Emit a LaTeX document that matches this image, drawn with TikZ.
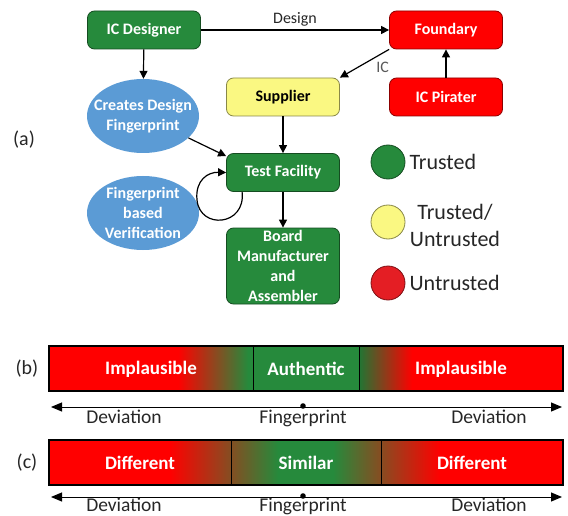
\documentclass[tikz,border=0pt]{standalone}
\usepackage{fontspec}
\setmainfont{Carlito}
\usetikzlibrary{arrows.meta,shapes.geometric}

\definecolor{trustgreen}{RGB}{38,138,60}
\definecolor{untrustred}{RGB}{255,0,0}
\definecolor{legendred}{RGB}{228,30,36}
\definecolor{mixyellow}{RGB}{250,248,130}
\definecolor{printblue}{RGB}{91,155,213}
\definecolor{inkgray}{RGB}{38,38,38}

\tikzset{
  stagebox/.style={draw=#1!55!black, fill=#1, line width=0.8pt, rounded corners=7pt,
    minimum width=113pt, minimum height=38pt, inner sep=0pt, align=center,
    font=\bfseries\fontsize{16}{20}\selectfont, text=white},
  printstep/.style={ellipse, fill=printblue, minimum width=112pt, minimum height=74pt, inner sep=0pt},
  printtext/.style={text=white, align=center, font=\bfseries\fontsize{16}{20}\selectfont},
  flow/.style={-{Triangle[length=8pt,width=8pt]}, line width=1.2pt},
  axis/.style={{Triangle[length=11pt,width=9pt]}-{Triangle[length=11pt,width=9pt]}, line width=1pt},
  barlabel/.style={text=white, font=\bfseries\fontsize{19}{22}\selectfont},
  axislabel/.style={text=inkgray, anchor=base, inner sep=0pt, font=\fontsize{19.5}{22}\selectfont},
  keydot/.style={circle, draw=#1!55!black, fill=#1, minimum size=34pt, inner sep=0pt, line width=0.8pt},
  keytext/.style={text=inkgray, align=center, font=\fontsize{22}{27}\selectfont},
}

\begin{document}
\begin{tikzpicture}[x=1pt,y=-1pt]
\useasboundingbox (0,0) rectangle (568,516);

% (a) supply chain
\node[text=inkgray, font=\fontsize{20}{22}\selectfont] (pa) at (24,140) {(a)};
\node[stagebox=trustgreen] (icd) at (144,30) {IC Designer};
\node[stagebox=untrustred] (fd) at (446,30) {Foundary};
\node[stagebox=mixyellow, text=black] (sp) at (283,97) {Supplier};
\node[stagebox=untrustred] (ip) at (446,97) {IC Pirater};
\node[stagebox=trustgreen] (tf) at (283,172.5) {Test Facility};
\node[stagebox=trustgreen, minimum height=76pt] (bm) at (283,266) {Board\\Manufacturer\\and\\Assembler};
\node[printstep, label={[printtext]center:{Creates Design\\Fingerprint}}] (cd) at (143,116) {};
\node[printstep, label={[printtext]center:{Fingerprint\\based\\Verification}}] (fv) at (143,213) {};

\draw[flow] (icd) -- (fd) node[midway, above, text=inkgray, font=\fontsize{16}{18}\selectfont] {Design};
\draw[flow] (icd) -- (cd);
\draw[flow] (fd.south west) -- (sp.north east)
  node[midway, anchor=west, xshift=8pt, yshift=-4pt, text=black!65, font=\fontsize{16}{18}\selectfont] {IC};
\draw[flow] (ip) -- (fd);
\draw[flow] (sp) -- (tf);
\draw[flow] (cd) -- ([yshift=-3pt]tf.north west);
\draw[flow] (tf) -- (bm);
\draw[flow] ([xshift=16pt]tf.south west) .. controls (246,226) and (200,230) .. (197,200)
  .. controls (195,180) and (208,172) .. (tf.west);

% legend
\node[keydot=trustgreen] (kt) at (388,162) {};
\node[keytext, anchor=west] (ktl) at (406,162) {Trusted};
\node[keydot=mixyellow] (km) at (388,222) {};
\node[keytext] (kml) at (455,225) {Trusted/\\Untrusted};
\node[keydot=legendred] (ku) at (388,283) {};
\node[keytext, anchor=west] (kul) at (406,283) {Untrusted};

% (b) bar
\node[text=inkgray, font=\fontsize{20}{22}\selectfont] (pb) at (27,369) {(b)};
\fill[untrustred] (49,346) rectangle (563,391);
\shade[left color=untrustred, right color=trustgreen] (178,346) rectangle (248,391);
\fill[trustgreen] (248,346) rectangle (359,391);
\shade[left color=trustgreen!85!black, right color=untrustred] (359,346) rectangle (412,391);
\draw[line width=1.2pt] (49,346) rectangle (563,391);
\draw[line width=1pt] (253,346) -- (253,391) (359,346) -- (359,391);
\node[barlabel] (bi1) at (151,369) {Implausible};
\node[barlabel] (ba) at (306,369) {Authentic};
\node[barlabel] (bi2) at (461,369) {Implausible};

\coordinate (bl) at (51,407);
\coordinate (br) at (562,407);
\draw[axis] (bl) -- (br);
\fill[black] (303,406) circle (2.8);
\node[axislabel] (bd1) at (124,423) {Deviation};
\node[axislabel] (bf) at (303,423) {Fingerprint};
\node[axislabel] (bd2) at (489,423) {Deviation};

% (c) bar
\node[text=inkgray, font=\fontsize{20}{22}\selectfont] (pc) at (27,463) {(c)};
\fill[untrustred] (49,440) rectangle (563,485);
\shade[left color=untrustred, right color=trustgreen] (170,440) rectangle (278,485);
\fill[trustgreen] (278,440) rectangle (333,485);
\shade[left color=trustgreen, right color=untrustred] (333,440) rectangle (440,485);
\draw[line width=1.2pt] (49,440) rectangle (563,485);
\draw[line width=1pt] (231,440) -- (231,485) (381,440) -- (381,485);
\node[barlabel] (cd1) at (140,463) {Different};
\node[barlabel] (cs) at (306,463) {Similar};
\node[barlabel] (cd2) at (472,463) {Different};

\coordinate (cl) at (51,497);
\coordinate (cr) at (562,497);
\draw[axis] (cl) -- (cr);
\fill[black] (303,496) circle (2.8);
\node[axislabel] (cdv1) at (124,511) {Deviation};
\node[axislabel] (cf) at (303,511) {Fingerprint};
\node[axislabel] (cdv2) at (489,511) {Deviation};
\end{tikzpicture}
\end{document}
